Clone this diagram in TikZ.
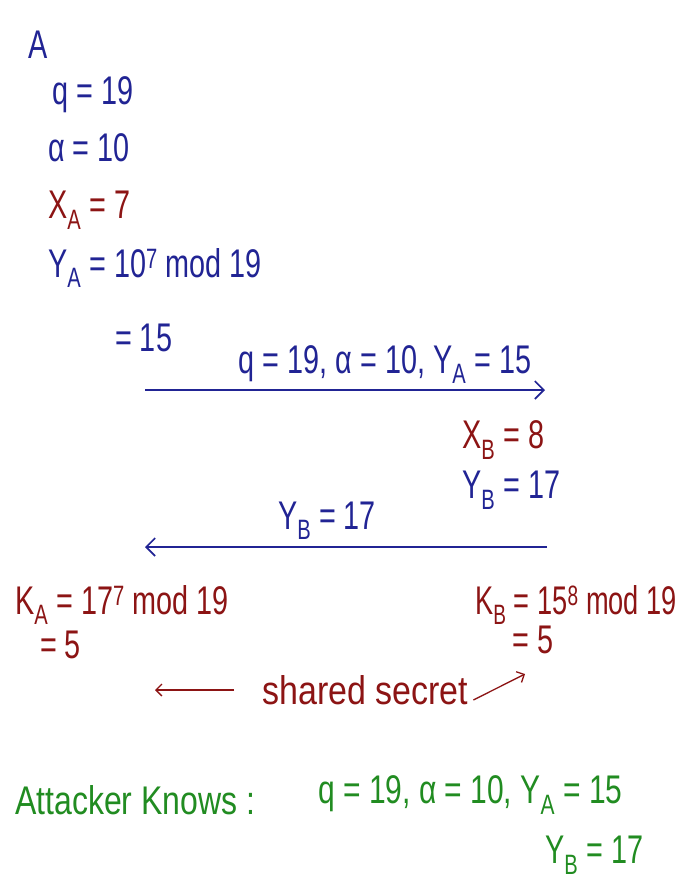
\documentclass[tikz,border=0pt]{standalone}
\usepackage{fontspec}
\usepackage{graphicx}
\setmainfont{Liberation Sans}
\usetikzlibrary{arrows.meta, positioning}
\definecolor{InkBlue}{rgb}{0.13, 0.14, 0.58}
\definecolor{InkRed}{rgb}{0.55, 0.08, 0.08}
\definecolor{InkGreen}{rgb}{0.13, 0.55, 0.13}
\newcommand{\sub}[1]{\textsubscript{#1}}
\newcommand{\pow}[1]{\textsuperscript{#1}}
\newcommand{\ink}[2][0.72]{\scalebox{#1}[1]{#2}}

\begin{document}
\begin{tikzpicture}[
    x=1pt, y=-1pt,
    big/.style={font=\fontsize{40}{46}\selectfont, inner sep=0pt, anchor=west},
    blueink/.style={big, text=InkBlue},
    redink/.style={big, text=InkRed},
    greenink/.style={big, text=InkGreen},
    msg/.style={-{Straight Barb[length=9pt, width=18pt]}, line width=1.6pt, InkBlue},
    hint/.style={-{Straight Barb[length=6pt, width=12pt]}, line width=1.3pt, InkRed},
]
\useasboundingbox[fill=white] (0,0) rectangle (681,895);

% side A
\node[blueink] (alice) at (28,45) {\ink{A}};
\node[blueink] (qA) at (52,95) {\ink{q = 19}};
\node[blueink] (alphaA) at (48,148) {\ink{α = 10}};
\node[redink] (xA) at (48,210) {\ink{X\sub{A} = 7}};
\node[blueink] (yA) at (48,268) {\ink{Y\sub{A} = 10\pow{7} mod 19}};
\node[blueink] (yAval) at (115,338) {\ink{= 15}};

% message A -> B
\coordinate (m1s) at (145,390);
\coordinate (m1e) at (545,390);
\draw[msg] (m1s) -- (m1e);
\node[blueink, anchor=south] (m1lbl) at (385,384) {\ink{q = 19, α = 10, Y\sub{A} = 15}};

% side B
\node[redink] (xB) at (462,440) {\ink{X\sub{B} = 8}};
\node[blueink] (yB) at (462,490) {\ink{Y\sub{B} = 17}};

% message B -> A
\coordinate (m2s) at (547,547);
\coordinate (m2e) at (145,547);
\draw[msg] (m2s) -- (m2e);
\node[blueink, anchor=south] (m2lbl) at (327,540) {\ink{Y\sub{B} = 17}};

% keys
\node[redink] (kA) at (15,605) {\ink{K\sub{A} = 17\pow{7} mod 19}};
\node[redink] (kAval) at (40,645) {\ink{= 5}};
\node[redink, anchor=east] (kB) at (677,605) {\ink[0.68]{K\sub{B} = 15\pow{8} mod 19}};
\node[redink] (kBval) at (512,640) {\ink{= 5}};

\node[redink] (shared) at (262,690) {\ink[0.85]{shared secret}};
\coordinate (leftTip) at (155,690);
\coordinate (rightTip) at (525,674);
\draw[hint] ([xshift=-28pt]shared.west) -- (leftTip);
\draw[hint] ([xshift=5pt, yshift=-10pt]shared.east) -- (rightTip);

% attacker
\node[greenink] (attacker) at (15,800) {\ink[0.8]{Attacker Knows :}};
\node[greenink] (known) at (318,795) {\ink[0.75]{q = 19, α = 10, Y\sub{A} = 15}};
\node[greenink] (knownB) at (545,855) {\ink{Y\sub{B} = 17}};

\end{tikzpicture}
\end{document}
